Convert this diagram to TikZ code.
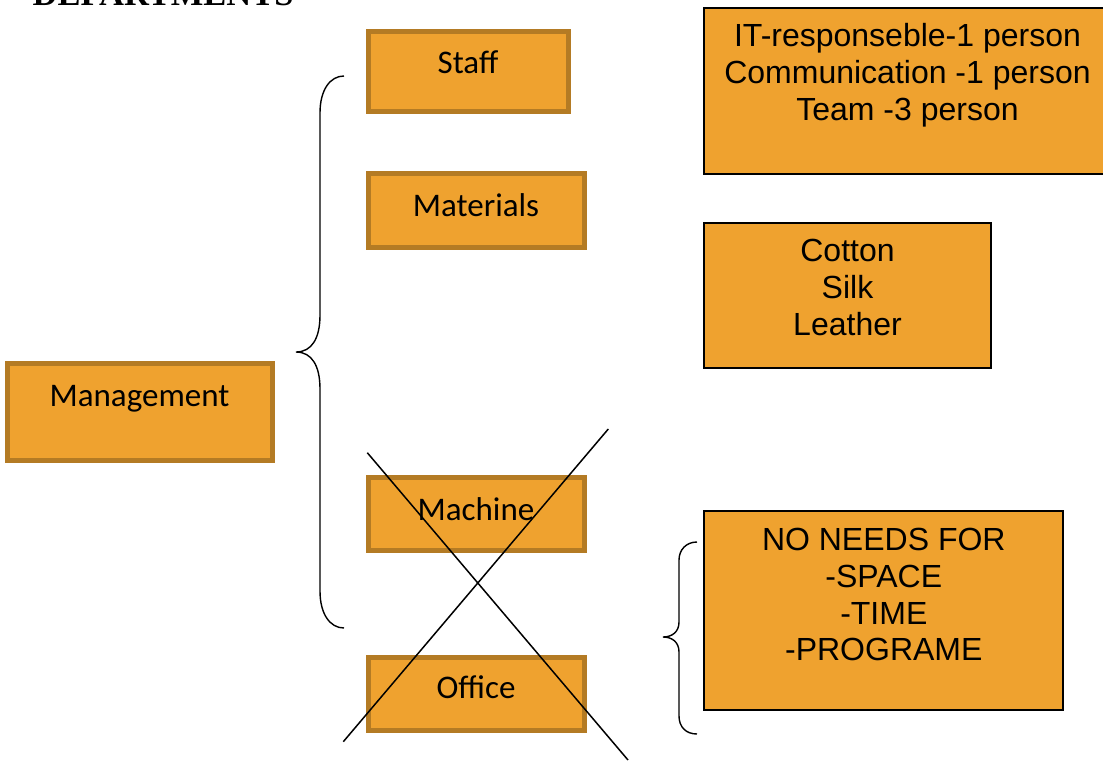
\documentclass[tikz,border=0pt]{standalone}
\usepackage{fontspec}
\setmainfont{Liberation Sans}
\newfontfamily\deptfont{Carlito}
\newfontfamily\titlefont{Liberation Serif}
\definecolor{boxfill}{HTML}{EFA22F}
\definecolor{boxedge}{HTML}{B47B24}
\begin{document}
\begin{tikzpicture}[x=1pt,y=-1pt,
  deptbox/.style={draw=boxedge,line width=5pt,fill=boxfill,inner sep=0pt,
    minimum width=#1,anchor=north west},
  depttext/.style={font=\deptfont\fontsize{33}{36}\selectfont,anchor=base,inner sep=0pt},
  notebox/.style={draw=black,line width=2pt,fill=boxfill,inner sep=0pt,anchor=north west},
  notetext/.style={font=\fontsize{32}{36.7}\selectfont,align=center,anchor=base,inner sep=0pt},
  brace/.style={draw=black,line width=1.4pt},
  strike/.style={draw=black,line width=1.5pt}]
\useasboundingbox (0,0) rectangle (1103,761);

% heading, partly above the page edge
\node[font=\titlefont\bfseries\fontsize{34.5}{40}\selectfont,anchor=base west,inner sep=0pt]
  (title) at (32.5,5.5) {DEPARTMENTS};

% department boxes (anchored at the outer corner of the frame)
\node[deptbox=199.7pt,minimum height=79.5pt] (staffbox) at (366,29) {};
\node[depttext] (staff) at (468,73.3) {Staff};
\node[deptbox=216pt,minimum height=74pt] (matbox) at (365.5,171) {};
\node[depttext] (materials) at (476,216.7) {Materials};
\node[deptbox=265pt,minimum height=96.7pt] (mgmtbox) at (5,361) {};
\node[depttext] (management) at (139.5,406.7) {Management};
\node[deptbox=215.7pt,minimum height=73pt] (machbox) at (366,475) {};
\node[depttext] (machine) at (476,520) {Machine};
\node[deptbox=215.7pt,minimum height=73pt] (officebox) at (366,655) {};
\node[depttext] (office) at (476,698.3) {Office};

% note boxes (text anchored at the baseline of its last line)
\node[notebox,minimum width=420pt,minimum height=166.3pt] (staffnote) at (703.3,6.7) {};
\node[notetext] (stafflist) at (907.5,120)
  {IT-responseble-1 person\\Communication -1 person\\Team -3 person};
\node[notebox,minimum width=287pt,minimum height=145.3pt] (matnote) at (703.3,221.7) {};
\node[notetext] (matlist) at (847.5,335) {Cotton\\Silk\\Leather};
\node[notebox,minimum width=359pt,minimum height=198.7pt] (officenote) at (703.3,510) {};
\node[notetext] (officelist) at (883.8,660.7)
  {NO NEEDS FOR\\-SPACE\\-TIME\\-PROGRAME};

% braces
\coordinate (b1top) at (344,76);
\coordinate (b1tip) at (296,352);
\coordinate (b1bot) at (344,628);
\draw[brace] (b1top) .. controls (330,76) and (320,90) .. (320,113) -- (320,315)
  .. controls (320,338) and (312,352) .. (b1tip)
  .. controls (312,352) and (320,366) .. (320,389) -- (320,591)
  .. controls (320,614) and (330,628) .. (b1bot);
\coordinate (b2top) at (697,542);
\coordinate (b2tip) at (663,637);
\coordinate (b2bot) at (697,734);
\draw[brace] (b2top) .. controls (686,542) and (679,550) .. (679,560) -- (679,622)
  .. controls (679,632) and (672,637) .. (b2tip)
  .. controls (672,637) and (679,642) .. (679,652) -- (679,716)
  .. controls (679,727) and (686,734) .. (b2bot);

% strike-through cross over Machine and Office
\coordinate (xa1) at (367.3,452.7);
\coordinate (xa2) at (628,760);
\coordinate (xb1) at (608.3,429);
\coordinate (xb2) at (343.3,741.7);
\draw[strike] (xa1) -- (xa2);
\draw[strike] (xb1) -- (xb2);
\end{tikzpicture}
\end{document}
